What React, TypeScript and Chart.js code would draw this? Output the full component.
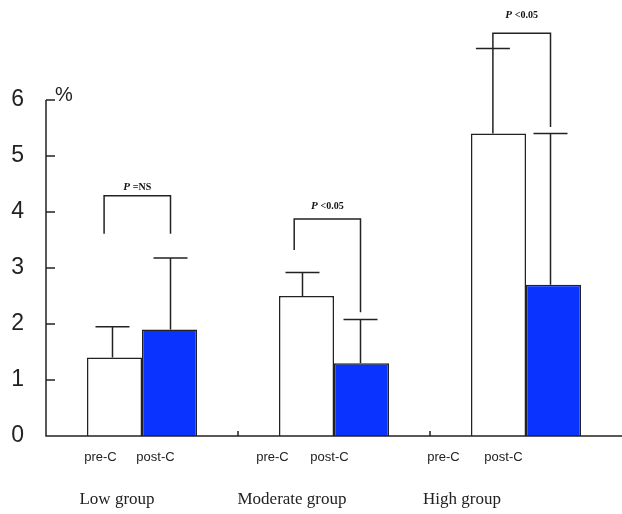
import React, { useEffect, useRef } from "react";
import { Chart, registerables } from "chart.js";

Chart.register(...registerables);

const categories = ["Low group", "Moderate group", "High group"];
const barLabels = ["pre-C", "post-C"];
const preValues = [1.4, 2.5, 5.4];
const postValues = [1.9, 1.3, 2.7];
const preErrTop = [1.95, 2.92, 6.92];
const postErrTop = [3.18, 2.08, 5.4];
const bracketTop = [4.29, 3.875, 7.19];
const bracketLeftEnd = [3.61, 3.32, 6.93];
const bracketRightEnd = [3.61, 2.21, 5.52];
const bracketText = ["=NS", "<0.05", "<0.05"];
const bracketTextY = [4.39, 4.05, 7.46];
const yTickValues = [0, 1, 2, 3, 4, 5, 6];

// style offsets (px)
const preWhiskerOff = [-2, -4, -5.6];
const postWhiskerOff = [1, -1, -3];
const bracketLeftOff = [-10.4, -12.3, -5.6];
const subLabelOffPre = [-14, -34, -55];
const subLabelOffPost = [-14, -32, -50];
const groupLabelOff = [-25, -42, -64];

const INK = "#222";

const overlay = {
  id: "overlay",
  afterDraw(chart: any) {
    const ctx = chart.ctx;
    const y = chart.scales.y;
    const area = chart.chartArea;
    const m0 = chart.getDatasetMeta(0);
    const m1 = chart.getDatasetMeta(1);
    ctx.save();
    ctx.strokeStyle = INK;
    ctx.fillStyle = INK;
    ctx.lineWidth = 1.5;

    // axes
    const y0 = y.getPixelForValue(0);
    ctx.beginPath();
    ctx.moveTo(area.left, y.getPixelForValue(6));
    ctx.lineTo(area.left, y0);
    ctx.lineTo(area.right, y0);
    yTickValues.forEach((v) => {
      const py = y.getPixelForValue(v);
      ctx.moveTo(area.left, py);
      ctx.lineTo(area.left + 9, py);
    });
    const catW = (area.right - area.left) / categories.length;
    for (let i = 1; i < categories.length; i++) {
      const px = area.left + i * catW;
      ctx.moveTo(px, y0);
      ctx.lineTo(px, y0 - 5);
    }
    ctx.stroke();

    // % label
    ctx.font = "20px 'Liberation Sans', Arial, sans-serif";
    ctx.textAlign = "left";
    ctx.textBaseline = "alphabetic";
    ctx.fillText("%", area.left + 9, y.getPixelForValue(6) + 1);

    categories.forEach((c, i) => {
      const b0 = m0.data[i];
      const b1 = m1.data[i];
      const xp = b0.x + preWhiskerOff[i];
      const xq = b1.x + postWhiskerOff[i];
      // whiskers
      ctx.beginPath();
      ctx.moveTo(xp, y.getPixelForValue(preValues[i]));
      ctx.lineTo(xp, y.getPixelForValue(preErrTop[i]));
      ctx.moveTo(xp - 17, y.getPixelForValue(preErrTop[i]));
      ctx.lineTo(xp + 17, y.getPixelForValue(preErrTop[i]));
      ctx.moveTo(xq, y.getPixelForValue(postValues[i]));
      ctx.lineTo(xq, y.getPixelForValue(postErrTop[i]));
      ctx.moveTo(xq - 17, y.getPixelForValue(postErrTop[i]));
      ctx.lineTo(xq + 17, y.getPixelForValue(postErrTop[i]));
      // bracket
      const bl = b0.x + bracketLeftOff[i];
      ctx.moveTo(bl, y.getPixelForValue(bracketLeftEnd[i]));
      ctx.lineTo(bl, y.getPixelForValue(bracketTop[i]));
      ctx.lineTo(xq, y.getPixelForValue(bracketTop[i]));
      ctx.lineTo(xq, y.getPixelForValue(bracketRightEnd[i]));
      ctx.stroke();

      // bracket text
      const ty = y.getPixelForValue(bracketTextY[i]);
      const cx = (bl + xq) / 2;
      const f1 = "italic bold 11px 'Liberation Serif', 'Times New Roman', serif";
      const f2 = "bold 10px 'Liberation Serif', 'Times New Roman', serif";
      ctx.font = f1;
      const w1 = ctx.measureText("P ").width;
      ctx.font = f2;
      const w2 = ctx.measureText(bracketText[i]).width;
      let sx = cx - (w1 + w2) / 2;
      ctx.textAlign = "left";
      ctx.font = f1;
      ctx.fillStyle = "#111";
      ctx.fillText("P ", sx, ty);
      ctx.font = f2;
      ctx.fillText(bracketText[i], sx + w1, ty);

      // sub labels
      ctx.fillStyle = INK;
      ctx.font = "13px 'Liberation Sans', Arial, sans-serif";
      ctx.textAlign = "center";
      ctx.textBaseline = "middle";
      ctx.fillText(barLabels[0], b0.x + subLabelOffPre[i], y0 + 21);
      ctx.fillText(barLabels[1], b1.x + subLabelOffPost[i], y0 + 21);

      // group label
      const center = area.left + (i + 0.5) * catW;
      ctx.font = "17px 'Liberation Serif', 'Times New Roman', serif";
      ctx.textBaseline = "alphabetic";
      ctx.fillText(c, center + groupLabelOff[i], y0 + 68);
    });
    ctx.restore();
  },
};

export default function App() {
  const ref = useRef<HTMLCanvasElement | null>(null);
  useEffect(() => {
    document.body.style.margin = "0";
    document.body.style.overflow = "hidden";
    const chart = new Chart(ref.current as HTMLCanvasElement, {
      type: "bar",
      data: {
        labels: categories,
        datasets: [
          {
            label: barLabels[0],
            data: preValues,
            backgroundColor: "#ffffff",
            borderColor: INK,
            borderWidth: 1.5,
          },
          {
            label: barLabels[1],
            data: postValues,
            backgroundColor: "#0a33ff",
            borderColor: INK,
            borderWidth: 1.5,
          },
        ],
      },
      options: {
        animation: false,
        responsive: false,
        maintainAspectRatio: false,
        layout: { padding: { top: 100, bottom: 78, left: 0, right: 0 } },
        plugins: { legend: { display: false }, tooltip: { enabled: false } },
        datasets: { bar: { categoryPercentage: 0.573, barPercentage: 1 } },
        scales: {
          x: { display: false },
          y: {
            min: 0,
            max: 6,
            grid: { display: false, drawTicks: false },
            border: { display: false },
            ticks: {
              stepSize: 1,
              padding: 22,
              color: INK,
              font: { size: 23, family: "'Liberation Sans', Arial, sans-serif" },
            },
            afterFit: (s: any) => {
              s.width = 46;
            },
          },
        },
      },
      plugins: [overlay],
    });
    return () => chart.destroy();
  }, []);
  return (
    <div style={{ width: 622, height: 514 }}>
      <canvas ref={ref} width={622} height={514} style={{ display: "block" }} />
    </div>
  );
}
